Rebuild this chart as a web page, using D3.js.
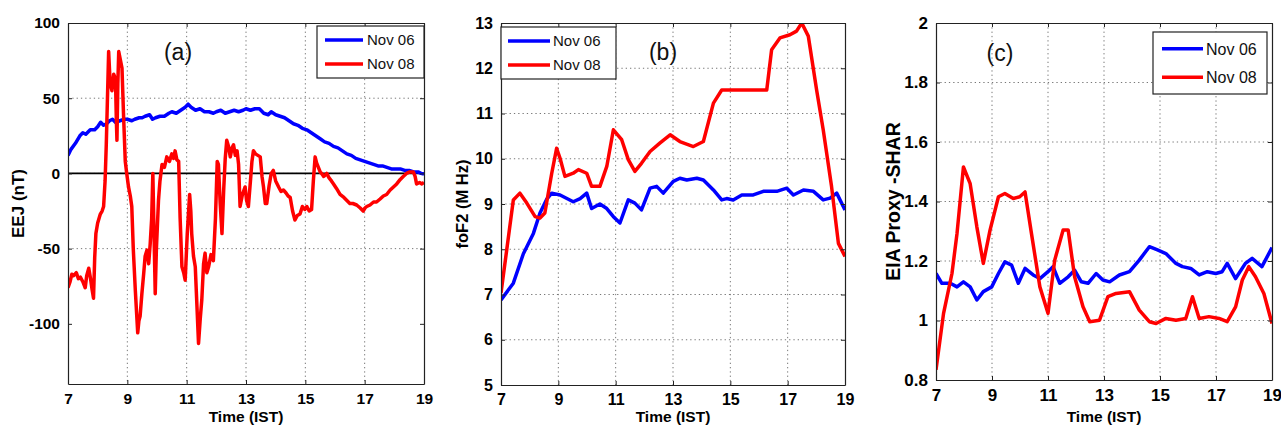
<!DOCTYPE html>
<html>
<head>
<meta charset="utf-8">
<script src="https://cdn.jsdelivr.net/npm/d3@7"></script>
<style>
  body { margin: 0; background: #fff; }
  svg { display: block; font-family: "Liberation Sans", Arial, sans-serif; }
</style>
</head>
<body>
<div id="chart"></div>
<script>
// ---- data: [time (IST), value] ----
var xTicks = [7, 9, 11, 13, 15, 17, 19];
var seriesNames = ["Nov 06", "Nov 08"];

// (a) EEJ (nT)
var eejTicks = [-100, -50, 0, 50, 100];
var eejNov06 = [[7.0,12],[7.1,16],[7.25,20],[7.4,25],[7.5,27],[7.6,26],[7.75,29],[7.9,29],[8.0,31],[8.1,34],
  [8.2,32],[8.3,33],[8.4,35],[8.5,36],[8.6,34],[8.75,35],[8.9,36],[9.0,36],[9.15,35],[9.25,36],[9.4,37],
  [9.5,37],[9.6,38],[9.75,39],[9.85,36],[9.95,37],[10.1,38],[10.25,38],[10.4,40],[10.5,41],[10.65,40],
  [10.8,42],[10.95,44],[11.05,46],[11.15,44],[11.3,42],[11.45,43],[11.6,41],[11.75,41],[11.9,40],[12.0,41],
  [12.15,42],[12.3,40],[12.45,41],[12.6,42],[12.75,41],[12.9,42],[13.0,43],[13.15,42],[13.3,43],[13.45,43],
  [13.6,40],[13.75,39],[13.85,41],[14.0,39],[14.15,38],[14.3,37],[14.45,35],[14.6,33],[14.75,32],[14.9,30],
  [15.05,29],[15.2,27],[15.35,25],[15.5,23],[15.65,21],[15.8,20],[15.95,18],[16.1,17],[16.25,15],[16.4,13],
  [16.55,12],[16.7,10],[16.85,9],[17.0,8],[17.15,7],[17.3,6],[17.45,5],[17.6,5],[17.75,4],[17.9,3],
  [18.05,3],[18.2,3],[18.35,2],[18.5,2],[18.65,1],[18.8,1],[18.9,0],[19.0,-0.5]];
var eejNov08 = [[7.0,-76],[7.07,-72],[7.13,-67],[7.19,-68],[7.28,-66],[7.35,-70],[7.42,-69],[7.5,-72],
  [7.58,-76],[7.63,-68],[7.7,-63],[7.76,-70],[7.81,-77],[7.86,-83],[7.9,-56],[7.94,-40],[8.0,-33],[8.09,-27],
  [8.15,-25],[8.2,-22],[8.25,-5],[8.29,19],[8.33,50],[8.37,81],[8.42,60],[8.48,55],[8.54,66],[8.6,63],
  [8.63,35],[8.65,22],[8.68,60],[8.71,81],[8.76,76],[8.82,70],[8.87,40],[8.93,8],[8.98,0],[9.04,-9],
  [9.1,-15],[9.15,-22],[9.2,-50],[9.27,-78],[9.31,-92],[9.35,-106],[9.39,-98],[9.43,-95],[9.49,-80],
  [9.55,-67],[9.6,-55],[9.66,-51],[9.72,-60],[9.77,-47],[9.82,-30],[9.86,0],[9.9,-40],[9.94,-80],[9.98,-50],
  [10.05,-18],[10.1,-5],[10.17,6],[10.25,4],[10.33,11],[10.42,8],[10.5,13],[10.56,10],[10.61,15],[10.67,9],
  [10.73,8],[10.78,-30],[10.84,-62],[10.9,-66],[10.95,-71],[11.02,-40],[11.1,-14],[11.14,-25],[11.17,-40],
  [11.23,-55],[11.29,-62],[11.35,-90],[11.4,-113],[11.46,-96],[11.51,-84],[11.57,-60],[11.62,-53],[11.68,-66],
  [11.74,-62],[11.82,-54],[11.9,-58],[11.97,-30],[12.03,8],[12.07,6],[12.13,-20],[12.19,-40],[12.25,-10],
  [12.3,10],[12.35,22],[12.41,18],[12.47,11],[12.53,17],[12.58,19],[12.64,12],[12.7,15],[12.75,6],[12.8,-22],
  [12.88,-14],[12.97,-9],[13.02,-18],[13.08,-22],[13.15,-5],[13.2,8],[13.25,15],[13.32,13],[13.4,12],[13.48,11],
  [13.54,-2],[13.59,-9],[13.65,-20],[13.7,-20],[13.78,-8],[13.85,0],[13.92,2],[14.0,-5],[14.1,-9],[14.18,-12],
  [14.26,-11],[14.35,-13],[14.42,-15],[14.49,-16],[14.57,-25],[14.65,-31],[14.73,-28],[14.82,-27],[14.9,-22],
  [14.98,-24],[15.05,-22],[15.13,-25],[15.21,-24],[15.27,-5],[15.33,11],[15.38,7],[15.44,4],[15.5,1],[15.55,0],
  [15.62,-2],[15.72,0],[15.8,-3],[15.88,-5],[15.95,-7],[16.05,-10],[16.17,-14],[16.3,-16],[16.4,-18],[16.5,-20],
  [16.6,-20],[16.73,-21],[16.85,-23],[16.95,-25],[17.01,-23],[17.07,-22],[17.18,-21],[17.3,-19],[17.4,-19],
  [17.52,-17],[17.63,-15],[17.74,-14],[17.86,-11],[17.97,-9],[18.08,-7],[18.2,-4],[18.3,-2],[18.41,0],
  [18.52,1],[18.64,1],[18.7,-2],[18.75,-7],[18.85,-6],[18.93,-7],[19.0,-6]];

// (b) foF2 (MHz)
var fof2Ticks = [5, 6, 7, 8, 9, 10, 11, 12, 13];
var fof2Nov06 = [[7.0,6.88],[7.43,7.25],[7.78,7.9],[8.13,8.35],[8.36,8.8],[8.59,9.1],[8.77,9.24],[9.06,9.2],
  [9.52,9.05],[9.76,9.12],[9.99,9.24],[10.16,8.9],[10.45,9.0],[10.69,8.9],[10.92,8.72],[11.15,8.58],
  [11.44,9.09],[11.67,9.02],[11.9,8.87],[12.2,9.35],[12.43,9.39],[12.66,9.24],[13.01,9.5],[13.24,9.57],
  [13.48,9.53],[13.83,9.57],[14.06,9.53],[14.41,9.31],[14.7,9.09],[14.87,9.12],[15.1,9.09],[15.4,9.2],
  [15.8,9.2],[16.15,9.28],[16.62,9.28],[16.97,9.35],[17.2,9.2],[17.55,9.31],[17.9,9.28],[18.24,9.09],
  [18.48,9.13],[18.71,9.24],[19.0,8.87]];
var fof2Nov08 = [[7.0,7.03],[7.43,9.09],[7.66,9.24],[7.9,9.02],[8.19,8.72],[8.36,8.69],[8.53,8.8],[8.77,9.68],
  [8.94,10.23],[9.06,10.01],[9.23,9.61],[9.52,9.68],[9.7,9.76],[9.99,9.68],[10.16,9.39],[10.45,9.39],
  [10.69,9.83],[10.92,10.64],[11.21,10.42],[11.44,9.98],[11.67,9.72],[11.9,9.9],[12.2,10.16],[12.55,10.35],
  [12.9,10.53],[13.24,10.38],[13.71,10.27],[14.06,10.38],[14.41,11.23],[14.7,11.52],[15.1,11.52],[15.8,11.52],
  [16.27,11.52],[16.44,12.41],[16.73,12.67],[17.08,12.74],[17.31,12.82],[17.49,13.0],[17.72,12.71],
  [18.01,11.52],[18.24,10.64],[18.53,9.39],[18.77,8.13],[19.0,7.84]];

// (c) EIA proxy - SHAR
var eiaTicks = [0.8, 1, 1.2, 1.4, 1.6, 1.8, 2];
var eiaNov06 = [[7.0,1.158],[7.21,1.125],[7.51,1.125],[7.75,1.113],[7.98,1.13],[8.22,1.113],[8.46,1.069],
  [8.69,1.097],[8.99,1.113],[9.23,1.158],[9.46,1.197],[9.7,1.186],[9.94,1.125],[10.18,1.175],[10.47,1.153],
  [10.71,1.141],[11.0,1.164],[11.18,1.181],[11.42,1.125],[11.72,1.147],[11.95,1.169],[12.19,1.13],[12.43,1.125],
  [12.72,1.158],[12.96,1.136],[13.2,1.13],[13.55,1.153],[13.91,1.164],[14.26,1.203],[14.62,1.248],[14.91,1.237],
  [15.21,1.225],[15.57,1.192],[15.8,1.181],[16.1,1.175],[16.4,1.153],[16.69,1.164],[16.99,1.158],[17.22,1.164],
  [17.4,1.192],[17.7,1.141],[18.05,1.192],[18.29,1.209],[18.64,1.181],[19.0,1.245]];
var eiaNov08 = [[7.0,0.834],[7.27,1.024],[7.57,1.158],[7.75,1.292],[7.98,1.516],[8.22,1.46],[8.46,1.314],
  [8.69,1.192],[8.93,1.304],[9.23,1.416],[9.46,1.427],[9.76,1.41],[9.99,1.416],[10.18,1.432],[10.41,1.292],
  [10.71,1.113],[11.0,1.024],[11.24,1.203],[11.54,1.304],[11.72,1.304],[11.95,1.147],[12.25,1.046],[12.49,0.996],
  [12.84,1.001],[13.14,1.08],[13.43,1.091],[13.91,1.097],[14.26,1.035],[14.62,0.996],[14.86,0.99],[15.21,1.007],
  [15.57,1.001],[15.92,1.007],[16.16,1.08],[16.4,1.007],[16.75,1.013],[17.11,1.007],[17.4,0.996],[17.7,1.046],
  [17.94,1.136],[18.17,1.181],[18.41,1.147],[18.71,1.091],[19.0,0.99]];

var colors = ["#0000ff", "#ff0000"];

var svg = d3.select("#chart").append("svg")
  .attr("width", 1281)
  .attr("height", 428);

var panels = [
  { id: "a", left: 68, right: 424, top: 23, bottom: 384, yDomain: [-140, 100], yTicks: eejTicks,
    series: [eejNov06, eejNov08], yLabel: "EEJ (nT)", yLabelX: 18, yLabelSize: 17, tickSize: 15.5,
    letter: "(a)", letterX: 178, letterY: 60, zeroLine: true,
    legend: { x: 317, y: 26, w: 107, h: 52, lineX1: 325, lineX2: 363, textX: 367, size: 15 } },
  { id: "b", left: 501, right: 845, top: 23, bottom: 385, yDomain: [5, 13], yTicks: fof2Ticks,
    series: [fof2Nov06, fof2Nov08], yLabel: "foF2 (M Hz)", yLabelX: 462, yLabelSize: 16.5, tickSize: 16,
    letter: "(b)", letterX: 663, letterY: 60,
    legend: { x: 501, y: 27, w: 115, h: 52, lineX1: 508, lineX2: 550, textX: 553, size: 15 } },
  { id: "c", left: 936, right: 1272, top: 23, bottom: 380, yDomain: [0.8, 2], yTicks: eiaTicks,
    series: [eiaNov06, eiaNov08], yLabel: "EIA Proxy -SHAR", yLabelX: 893, yLabelSize: 19.5, tickSize: 17,
    letter: "(c)", letterX: 1000, letterY: 61,
    legend: { x: 1153, y: 32, w: 114, h: 62, lineX1: 1162, lineX2: 1203, textX: 1206, size: 16 } }
];

// plain hyphen for negatives, like the original MATLAB figure
var tickFmt = function(d) { return d3.format("~g")(d).replace("\u2212", "-"); };

panels.forEach(function(p) {
  var x = d3.scaleLinear().domain([7, 19]).range([p.left, p.right]);
  var y = d3.scaleLinear().domain(p.yDomain).range([p.bottom, p.top]);
  var g = svg.append("g").attr("id", "panel-" + p.id);

  // clip
  g.append("clipPath").attr("id", "clip-" + p.id)
    .append("rect")
      .attr("x", p.left).attr("y", p.top)
      .attr("width", p.right - p.left).attr("height", p.bottom - p.top);

  // dotted grid
  g.append("g").selectAll("line.vx").data(xTicks.slice(1, -1)).join("line")
    .attr("x1", d => x(d)).attr("x2", d => x(d))
    .attr("y1", p.top).attr("y2", p.bottom)
    .attr("stroke", "#777").attr("stroke-width", 1).attr("stroke-dasharray", "1.3,3");
  g.append("g").selectAll("line.hy").data(p.yTicks.slice(1, -1)).join("line")
    .attr("x1", p.left).attr("x2", p.right)
    .attr("y1", d => y(d)).attr("y2", d => y(d))
    .attr("stroke", "#777").attr("stroke-width", 1).attr("stroke-dasharray", "1.3,3");

  // zero reference line (panel a)
  if (p.zeroLine) {
    g.append("line")
      .attr("x1", p.left).attr("x2", p.right)
      .attr("y1", y(0)).attr("y2", y(0))
      .attr("stroke", "#000").attr("stroke-width", 1.6);
  }

  // series
  var line = d3.line().x(d => x(d[0])).y(d => y(d[1]));
  var plot = g.append("g").attr("clip-path", "url(#clip-" + p.id + ")");
  p.series.forEach(function(s, i) {
    plot.append("path")
      .attr("d", line(s))
      .attr("fill", "none")
      .attr("stroke", colors[i])
      .attr("stroke-width", 3.5)
      .attr("stroke-linejoin", "round");
  });

  // axes (MATLAB style: inward ticks on all sides)
  var ax = g.append("g");
  ax.append("g").attr("transform", "translate(0," + p.bottom + ")")
    .call(d3.axisBottom(x).tickValues(xTicks).tickSizeInner(-4).tickSizeOuter(0).tickPadding(9));
  ax.append("g").attr("transform", "translate(" + p.left + ",0)")
    .call(d3.axisLeft(y).tickValues(p.yTicks).tickSizeInner(-4).tickSizeOuter(0).tickPadding(8)
      .tickFormat(tickFmt));
  ax.append("g").attr("transform", "translate(0," + p.top + ")")
    .call(d3.axisTop(x).tickValues(xTicks).tickSizeInner(-4).tickSizeOuter(0).tickFormat(""));
  ax.append("g").attr("transform", "translate(" + p.right + ",0)")
    .call(d3.axisRight(y).tickValues(p.yTicks).tickSizeInner(-4).tickSizeOuter(0).tickFormat(""));
  ax.selectAll(".domain").attr("stroke", "#222").attr("stroke-width", 1.2);
  ax.selectAll(".tick line").attr("stroke", "#222");
  ax.selectAll("text")
    .attr("font-family", "Liberation Sans, Arial, sans-serif")
    .attr("font-weight", "bold")
    .attr("font-size", p.tickSize)
    .attr("fill", "#000");

  // axis labels
  g.append("text")
    .attr("x", (p.left + p.right) / 2).attr("y", 422)
    .attr("text-anchor", "middle")
    .attr("font-weight", "bold").attr("font-size", 15.5)
    .text("Time (IST)");
  g.append("text")
    .attr("transform", "translate(" + p.yLabelX + "," + ((p.top + p.bottom) / 2) + ") rotate(-90)")
    .attr("text-anchor", "middle").attr("dy", "0.35em")
    .attr("font-weight", "bold").attr("font-size", p.yLabelSize)
    .text(p.yLabel);

  // panel letter
  g.append("text")
    .attr("x", p.letterX).attr("y", p.letterY)
    .attr("text-anchor", "middle")
    .attr("font-size", 23).attr("fill", "#111")
    .text(p.letter);

  // legend
  var L = p.legend;
  var lg = g.append("g");
  lg.append("rect")
    .attr("x", L.x).attr("y", L.y).attr("width", L.w).attr("height", L.h)
    .attr("fill", "#fff").attr("stroke", "#222").attr("stroke-width", 1.2);
  seriesNames.forEach(function(name, i) {
    var ly = L.y + L.h * (i === 0 ? 0.27 : 0.73);
    lg.append("line")
      .attr("x1", L.lineX1).attr("x2", L.lineX2)
      .attr("y1", ly).attr("y2", ly)
      .attr("stroke", colors[i]).attr("stroke-width", 3.5);
    lg.append("text")
      .attr("x", L.textX).attr("y", ly).attr("dy", "0.36em")
      .attr("font-size", L.size).attr("fill", "#111")
      .text(name);
  });
});
</script>
</body>
</html>
